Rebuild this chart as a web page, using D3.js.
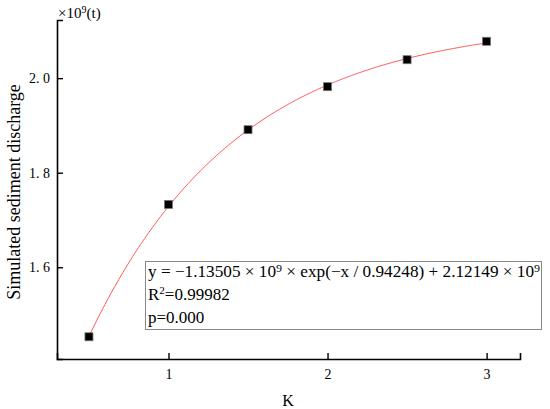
<!DOCTYPE html>
<html>
<head>
<meta charset="utf-8">
<script src="https://cdn.jsdelivr.net/npm/d3@7"></script>
<style>
  body { margin: 0; background: #fff; }
  svg text { font-family: "Liberation Serif", "Times New Roman", serif; fill: #000; }
</style>
</head>
<body>
<div id="chart"></div>
<script>
// K values and simulated sediment discharge (x10^9 t)
var kValues = [0.5, 1.0, 1.5, 2.0, 2.5, 3.0];
var discharge = [1.453, 1.733, 1.891, 1.982, 2.039, 2.078];
var xTicks = [1, 2, 3];
var yTicks = [1.6, 1.8, 2.0];
// fitted exponential: y = A * exp(-x / t) + y0  (in 10^9)
var fitA = -1.13505, fitT = 0.94248, fitY0 = 2.12149;
var fitLines = ["y = \u22121.13505 \u00d7 10\u2079 \u00d7 exp(\u2212x / 0.94248) + 2.12149 \u00d7 10\u2079", "R2", "p=0.000"];

var width = 550, height = 409;
var svg = d3.select('#chart').append('svg').attr('width', width).attr('height', height);

var x = d3.scaleLinear().domain([0.299, 3.21]).range([57, 520]);
var y = d3.scaleLinear().domain([1.406, 2.123]).range([359, 20]);

// curve from fitted equation
var curvePts = d3.range(0, 201).map(function(i) {
  var xv = 0.5 + i * (2.5 / 200);
  return [xv, fitA * Math.exp(-xv / fitT) + fitY0];
});
svg.append('path').datum(curvePts)
  .attr('d', d3.line().x(function(d) { return x(d[0]); }).y(function(d) { return y(d[1]); }))
  .attr('fill', 'none').attr('stroke', '#ff5a5a').attr('stroke-width', 1);

// points
svg.selectAll('.pt').data(kValues).enter().append('rect').attr('class', 'pt')
  .attr('x', function(d) { return x(d) - 4; })
  .attr('y', function(d, i) { return y(discharge[i]) - 4; })
  .attr('width', 8).attr('height', 8)
  .attr('fill', '#000').attr('stroke', '#777').attr('stroke-width', 0.8);

// axes
var xAxis = svg.append('g').attr('transform', 'translate(0,359)')
  .call(d3.axisBottom(x).tickValues(xTicks).tickSize(-6).tickPadding(10).tickFormat(d3.format('d')));
var yAxis = svg.append('g').attr('transform', 'translate(57,0)')
  .call(d3.axisLeft(y).tickValues(yTicks).tickSize(-6).tickPadding(7).tickFormat(d3.format('.1f')));
[xAxis, yAxis].forEach(function(a) {
  a.select('.domain').attr('stroke', '#000').attr('stroke-width', 1.6);
  a.selectAll('.tick line').attr('stroke', '#000').attr('stroke-width', 1.4);
  a.selectAll('.tick text').style('font-family', '"Liberation Serif", serif').style('font-size', '14px').attr('fill', '#222');
});
yAxis.selectAll('.tick text').text(function(d) { return d3.format('.1f')(d).replace('.', '. '); });

// axis titles
svg.append('text').attr('x', 288).attr('y', 406).attr('text-anchor', 'middle')
  .style('font-size', '16px').text('K');
svg.append('text').attr('transform', 'translate(20,192) rotate(-90)').attr('text-anchor', 'middle')
  .style('font-size', '18px').text('Simulated sediment discharge');
var unit = svg.append('text').attr('x', 58).attr('y', 18).style('font-size', '15px');
unit.append('tspan').text('\u00d710');
unit.append('tspan').attr('dy', -5).style('font-size', '10px').text('9');
unit.append('tspan').attr('dy', 5).text('(t)');

// fit annotation box
svg.append('rect').attr('x', 145.5).attr('y', 261.5).attr('width', 396).attr('height', 68)
  .attr('fill', '#fff').attr('stroke', '#888').attr('stroke-width', 1);
svg.append('text').attr('x', 148).attr('y', 277).style('font-size', '17px')
  .attr('textLength', 392).attr('lengthAdjust', 'spacingAndGlyphs').text(fitLines[0]);
var l2 = svg.append('text').attr('x', 148).attr('y', 300).style('font-size', '17px');
l2.append('tspan').text('R');
l2.append('tspan').attr('dy', -6).style('font-size', '11px').text('2');
l2.append('tspan').attr('dy', 6).text('=0.99982');
svg.append('text').attr('x', 148).attr('y', 323).style('font-size', '17px').text(fitLines[2]);
</script>
</body>
</html>
